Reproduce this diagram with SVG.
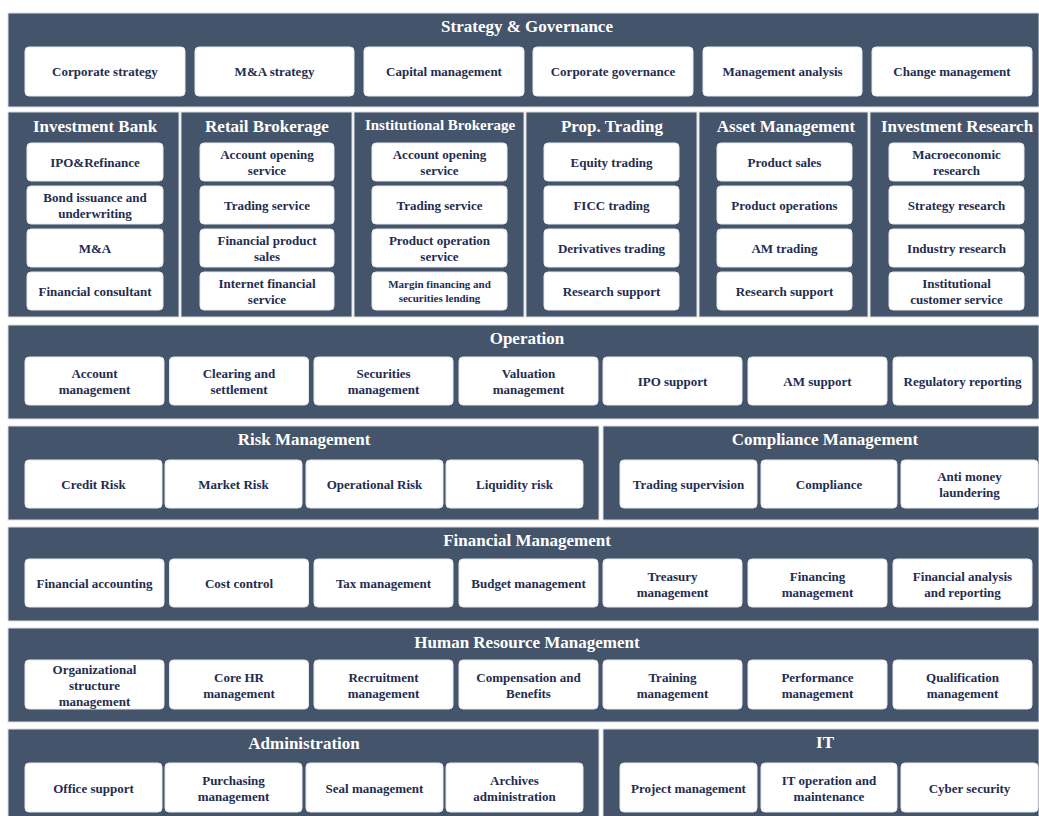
<svg xmlns="http://www.w3.org/2000/svg" width="1039" height="816" viewBox="0 0 1039 816">
<style>
.pn{fill:#44546A;stroke:#DADDE2;stroke-width:1}
.bx{fill:#FFFFFF;stroke:#E6E8EC;stroke-width:1}
.t{font-family:"Liberation Serif","Times New Roman",serif;font-weight:bold;fill:#FFFFFF;text-anchor:middle;dominant-baseline:central;font-size:17px}
.l{font-family:"Liberation Serif","Times New Roman",serif;font-weight:bold;fill:#1F2D50;text-anchor:middle;dominant-baseline:central;font-size:13px}
.s{font-size:11px}
</style>
<rect width="1039" height="816" fill="#FFFFFF"/>

<g id="strategy-governance">
<rect class="pn" x="8" y="13" width="1031" height="94"/>
<text class="t" x="527" y="26">Strategy &amp; Governance</text>
<rect class="bx" x="25" y="47" width="160" height="49" rx="4"/><text class="l" x="105" y="71.5">Corporate strategy</text>
<rect class="bx" x="195" y="47" width="159" height="49" rx="4"/><text class="l" x="274.5" y="71.5">M&amp;A strategy</text>
<rect class="bx" x="364" y="47" width="160" height="49" rx="4"/><text class="l" x="444" y="71.5">Capital management</text>
<rect class="bx" x="533" y="47" width="160" height="49" rx="4"/><text class="l" x="613" y="71.5">Corporate governance</text>
<rect class="bx" x="703" y="47" width="159" height="49" rx="4"/><text class="l" x="782.5" y="71.5">Management analysis</text>
<rect class="bx" x="872" y="47" width="160" height="49" rx="4"/><text class="l" x="952" y="71.5">Change management</text>
</g>

<g id="investment-bank">
<rect class="pn" x="8" y="112" width="171" height="205"/>
<text class="t" x="95" y="126">Investment Bank</text>
<rect class="bx" x="27" y="143" width="136" height="38" rx="4"/><text class="l" x="95" y="162">IPO&amp;Refinance</text>
<rect class="bx" x="27" y="186" width="136" height="38" rx="4"/><text class="l" x="95" y="197">Bond issuance and</text><text class="l" x="95" y="213">underwriting</text>
<rect class="bx" x="27" y="229" width="136" height="38" rx="4"/><text class="l" x="95" y="248">M&amp;A</text>
<rect class="bx" x="27" y="272" width="136" height="38" rx="4"/><text class="l" x="95" y="291">Financial consultant</text>
</g>

<g id="retail-brokerage">
<rect class="pn" x="181" y="112" width="171" height="205"/>
<text class="t" x="267" y="126">Retail Brokerage</text>
<rect class="bx" x="200" y="143" width="134" height="38" rx="4"/><text class="l" x="267" y="154">Account opening</text><text class="l" x="267" y="170">service</text>
<rect class="bx" x="200" y="186" width="134" height="38" rx="4"/><text class="l" x="267" y="205">Trading service</text>
<rect class="bx" x="200" y="229" width="134" height="38" rx="4"/><text class="l" x="267" y="240">Financial product</text><text class="l" x="267" y="256">sales</text>
<rect class="bx" x="200" y="272" width="134" height="38" rx="4"/><text class="l" x="267" y="283">Internet financial</text><text class="l" x="267" y="299">service</text>
</g>

<g id="institutional-brokerage">
<rect class="pn" x="354" y="112" width="170" height="205"/>
<text class="t" x="440" y="125" style="font-size:15px">Institutional Brokerage</text>
<rect class="bx" x="372" y="143" width="135" height="38" rx="4"/><text class="l" x="439.5" y="154">Account opening</text><text class="l" x="439.5" y="170">service</text>
<rect class="bx" x="372" y="186" width="135" height="38" rx="4"/><text class="l" x="439.5" y="205">Trading service</text>
<rect class="bx" x="372" y="229" width="135" height="38" rx="4"/><text class="l" x="439.5" y="240">Product operation</text><text class="l" x="439.5" y="256">service</text>
<rect class="bx" x="372" y="272" width="135" height="38" rx="4"/><text class="l s" x="439.5" y="284">Margin financing and</text><text class="l s" x="439.5" y="298">securities lending</text>
</g>

<g id="prop-trading">
<rect class="pn" x="526" y="112" width="171" height="205"/>
<text class="t" x="612" y="126">Prop. Trading</text>
<rect class="bx" x="544" y="143" width="135" height="38" rx="4"/><text class="l" x="611.5" y="162">Equity trading</text>
<rect class="bx" x="544" y="186" width="135" height="38" rx="4"/><text class="l" x="611.5" y="205">FICC trading</text>
<rect class="bx" x="544" y="229" width="135" height="38" rx="4"/><text class="l" x="611.5" y="248">Derivatives trading</text>
<rect class="bx" x="544" y="272" width="135" height="38" rx="4"/><text class="l" x="611.5" y="291">Research support</text>
</g>

<g id="asset-management">
<rect class="pn" x="699" y="112" width="169" height="205"/>
<text class="t" x="786" y="126">Asset Management</text>
<rect class="bx" x="717" y="143" width="135" height="38" rx="4"/><text class="l" x="784.5" y="162">Product sales</text>
<rect class="bx" x="717" y="186" width="135" height="38" rx="4"/><text class="l" x="784.5" y="205">Product operations</text>
<rect class="bx" x="717" y="229" width="135" height="38" rx="4"/><text class="l" x="784.5" y="248">AM trading</text>
<rect class="bx" x="717" y="272" width="135" height="38" rx="4"/><text class="l" x="784.5" y="291">Research support</text>
</g>

<g id="investment-research">
<rect class="pn" x="870" y="112" width="169" height="205"/>
<text class="t" x="957" y="126">Investment Research</text>
<rect class="bx" x="889" y="143" width="135" height="38" rx="4"/><text class="l" x="956.5" y="154">Macroeconomic</text><text class="l" x="956.5" y="170">research</text>
<rect class="bx" x="889" y="186" width="135" height="38" rx="4"/><text class="l" x="956.5" y="205">Strategy research</text>
<rect class="bx" x="889" y="229" width="135" height="38" rx="4"/><text class="l" x="956.5" y="248">Industry research</text>
<rect class="bx" x="889" y="272" width="135" height="38" rx="4"/><text class="l" x="956.5" y="283">Institutional</text><text class="l" x="956.5" y="299">customer service</text>
</g>

<g id="operation">
<rect class="pn" x="8" y="325" width="1031" height="94"/>
<text class="t" x="527" y="338">Operation</text>
<rect class="bx" x="25" y="357" width="139" height="48" rx="4"/><text class="l" x="94.5" y="373">Account</text><text class="l" x="94.5" y="389">management</text>
<rect class="bx" x="169.5" y="357" width="139" height="48" rx="4"/><text class="l" x="239" y="373">Clearing and</text><text class="l" x="239" y="389">settlement</text>
<rect class="bx" x="314" y="357" width="139" height="48" rx="4"/><text class="l" x="383.5" y="373">Securities</text><text class="l" x="383.5" y="389">management</text>
<rect class="bx" x="459" y="357" width="139" height="48" rx="4"/><text class="l" x="528.5" y="373">Valuation</text><text class="l" x="528.5" y="389">management</text>
<rect class="bx" x="603" y="357" width="139" height="48" rx="4"/><text class="l" x="672.5" y="381">IPO support</text>
<rect class="bx" x="748" y="357" width="139" height="48" rx="4"/><text class="l" x="817.5" y="381">AM support</text>
<rect class="bx" x="893" y="357" width="139" height="48" rx="4"/><text class="l" x="962.5" y="381">Regulatory reporting</text>
</g>

<g id="risk-management">
<rect class="pn" x="8" y="426" width="591" height="94"/>
<text class="t" x="304" y="439">Risk Management</text>
<rect class="bx" x="25" y="460" width="137" height="48" rx="4"/><text class="l" x="93.5" y="484">Credit Risk</text>
<rect class="bx" x="165" y="460" width="137" height="48" rx="4"/><text class="l" x="233.5" y="484">Market Risk</text>
<rect class="bx" x="306" y="460" width="137" height="48" rx="4"/><text class="l" x="374.5" y="484">Operational Risk</text>
<rect class="bx" x="446" y="460" width="137" height="48" rx="4"/><text class="l" x="514.5" y="484">Liquidity risk</text>
</g>

<g id="compliance-management">
<rect class="pn" x="603" y="426" width="436" height="94"/>
<text class="t" x="825" y="439">Compliance Management</text>
<rect class="bx" x="620" y="460" width="137" height="48" rx="4"/><text class="l" x="688.5" y="484">Trading supervision</text>
<rect class="bx" x="761" y="460" width="136" height="48" rx="4"/><text class="l" x="829" y="484">Compliance</text>
<rect class="bx" x="901" y="460" width="137" height="48" rx="4"/><text class="l" x="969.5" y="476">Anti money</text><text class="l" x="969.5" y="492">laundering</text>
</g>

<g id="financial-management">
<rect class="pn" x="8" y="527" width="1031" height="94"/>
<text class="t" x="527" y="540">Financial Management</text>
<rect class="bx" x="25" y="559" width="139" height="48" rx="4"/><text class="l" x="94.5" y="583">Financial accounting</text>
<rect class="bx" x="169.5" y="559" width="139" height="48" rx="4"/><text class="l" x="239" y="583">Cost control</text>
<rect class="bx" x="314" y="559" width="139" height="48" rx="4"/><text class="l" x="383.5" y="583">Tax management</text>
<rect class="bx" x="459" y="559" width="139" height="48" rx="4"/><text class="l" x="528.5" y="583">Budget management</text>
<rect class="bx" x="603" y="559" width="139" height="48" rx="4"/><text class="l" x="672.5" y="576">Treasury</text><text class="l" x="672.5" y="592">management</text>
<rect class="bx" x="748" y="559" width="139" height="48" rx="4"/><text class="l" x="817.5" y="576">Financing</text><text class="l" x="817.5" y="592">management</text>
<rect class="bx" x="893" y="559" width="139" height="48" rx="4"/><text class="l" x="962.5" y="576">Financial analysis</text><text class="l" x="962.5" y="592">and reporting</text>
</g>

<g id="human-resource-management">
<rect class="pn" x="8" y="628" width="1031" height="94"/>
<text class="t" x="527" y="642">Human Resource Management</text>
<rect class="bx" x="25" y="660" width="139" height="49" rx="4"/><text class="l" x="94.5" y="669">Organizational</text><text class="l" x="94.5" y="685">structure</text><text class="l" x="94.5" y="701">management</text>
<rect class="bx" x="169.5" y="660" width="139" height="49" rx="4"/><text class="l" x="239" y="677">Core HR</text><text class="l" x="239" y="693">management</text>
<rect class="bx" x="314" y="660" width="139" height="49" rx="4"/><text class="l" x="383.5" y="677">Recruitment</text><text class="l" x="383.5" y="693">management</text>
<rect class="bx" x="459" y="660" width="139" height="49" rx="4"/><text class="l" x="528.5" y="677">Compensation and</text><text class="l" x="528.5" y="693">Benefits</text>
<rect class="bx" x="603" y="660" width="139" height="49" rx="4"/><text class="l" x="672.5" y="677">Training</text><text class="l" x="672.5" y="693">management</text>
<rect class="bx" x="748" y="660" width="139" height="49" rx="4"/><text class="l" x="817.5" y="677">Performance</text><text class="l" x="817.5" y="693">management</text>
<rect class="bx" x="893" y="660" width="139" height="49" rx="4"/><text class="l" x="962.5" y="677">Qualification</text><text class="l" x="962.5" y="693">management</text>
</g>

<g id="administration">
<rect class="pn" x="8" y="729" width="591" height="92"/>
<text class="t" x="304" y="743">Administration</text>
<rect class="bx" x="25" y="763" width="137" height="49" rx="4"/><text class="l" x="93.5" y="788">Office support</text>
<rect class="bx" x="165" y="763" width="137" height="49" rx="4"/><text class="l" x="233.5" y="780">Purchasing</text><text class="l" x="233.5" y="796">management</text>
<rect class="bx" x="306" y="763" width="137" height="49" rx="4"/><text class="l" x="374.5" y="788">Seal management</text>
<rect class="bx" x="446" y="763" width="137" height="49" rx="4"/><text class="l" x="514.5" y="780">Archives</text><text class="l" x="514.5" y="796">administration</text>
</g>

<g id="it">
<rect class="pn" x="603" y="729" width="436" height="92"/>
<text class="t" x="825" y="742">IT</text>
<rect class="bx" x="620" y="763" width="137" height="49" rx="4"/><text class="l" x="688.5" y="788">Project management</text>
<rect class="bx" x="761" y="763" width="136" height="49" rx="4"/><text class="l" x="829" y="780">IT operation and</text><text class="l" x="829" y="796">maintenance</text>
<rect class="bx" x="901" y="763" width="137" height="49" rx="4"/><text class="l" x="969.5" y="788">Cyber security</text>
</g>
</svg>
